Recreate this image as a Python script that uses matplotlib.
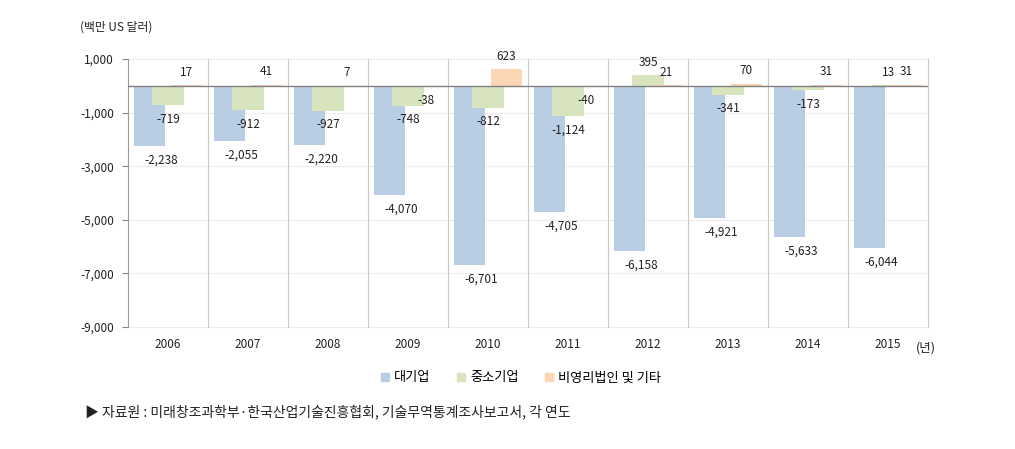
import numpy as np
import matplotlib.pyplot as plt
from matplotlib.patches import Patch

plt.rcParams['font.family'] = ['Noto Sans CJK KR', 'DejaVu Sans']

years = ['2006', '2007', '2008', '2009', '2010', '2011', '2012', '2013', '2014', '2015']
large = [-2238, -2055, -2220, -4070, -6701, -4705, -6158, -4921, -5633, -6044]
sme = [-719, -912, -927, -748, -812, -1124, 395, -341, -173, 13]
other = [17, 41, 7, -38, 623, -40, 21, 70, 31, 31]
series_names = ['대기업', '중소기업', '비영리법인 및 기타']
colors = ['#b9cde5', '#d7e4bd', '#fcd5b5']

fig = plt.figure(figsize=(10.15, 4.49), dpi=100)
ax = fig.add_axes([128 / 1015, 1 - 327 / 449, 800 / 1015, 268 / 449])

x = np.arange(len(years))
w = 0.39
offs = [-0.23, 0.0, 0.23]
label_dx = [12, 0, 0]

for data, off, c, dx in zip([large, sme, other], offs, colors, label_dx):
    ax.bar(x + off, data, width=w, color=c, zorder=2)
    for xi, v in zip(x, data):
        dy = 13 if v >= 0 else -14
        ax.annotate(f'{v:,}', (xi + off, v), xytext=(dx, dy), textcoords='offset pixels',
                    ha='center', va='center', fontsize=8.5, color='#222222', zorder=4)

ax.set_xlim(-0.5, len(years) - 0.5)
ax.set_ylim(-9000, 1000)
ax.set_yticks(np.arange(-9000, 1001, 2000))
ax.set_yticklabels([f'{t:,}' for t in range(-9000, 1001, 2000)], fontsize=8.5, color='#222222')
ax.set_xticks(x)
ax.set_xticklabels(years, fontsize=8.5, color='#222222')
ax.tick_params(axis='x', length=0, pad=8)
ax.tick_params(axis='y', length=4, color='#888888', pad=6)

for s in ['top', 'right', 'bottom']:
    ax.spines[s].set_visible(False)
ax.spines['left'].set_color('#999999')

for t in np.arange(-9000, 1001, 2000):
    ax.axhline(t, color='#ececec', lw=0.8, zorder=0, clip_on=False)
for b in np.arange(0.5, len(years) + 0.5, 1.0):
    ax.axvline(b, color='#c8c8c8', lw=0.8, zorder=1, clip_on=False)
ax.axhline(0, color='#7f7f7f', lw=1.0, zorder=3)

fig.text(80 / 1015, 1 - 27 / 449, '(백만 US 달러)', fontsize=8.5, va='center', color='#222222')
fig.text(916 / 1015, 1 - 348 / 449, '(년)', fontsize=9, va='center', color='#222222')

handles = [Patch(color=c, label=n) for c, n in zip(colors, series_names)]
fig.legend(handles=handles, loc='center', bbox_to_anchor=(521 / 1015, 1 - 378 / 449), ncol=3,
           frameon=False, fontsize=9.5, handlelength=0.6, handleheight=0.6,
           handletextpad=0.4, columnspacing=2.0)

fig.text(85 / 1015, 1 - 412 / 449,
         '▶ 자료원 : 미래창조과학부·한국산업기술진흥협회, 기술무역통계조사보고서, 각 연도',
         fontsize=10, va='center', color='#222222')

fig.savefig('out.png', dpi=100)
